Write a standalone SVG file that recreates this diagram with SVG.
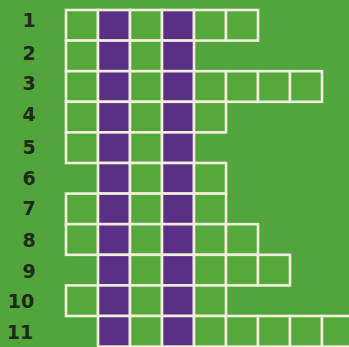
<svg xmlns="http://www.w3.org/2000/svg" width="349" height="347" viewBox="0 0 349 347">
<style>
.c{fill:#55a83a;stroke:#f2eedc;stroke-width:2.6}
.p{fill:#5a2f86;stroke:#f2eedc;stroke-width:2.6}
.n{font-family:"DejaVu Sans",sans-serif;font-weight:bold;font-size:19px;fill:#1d2b18;text-anchor:middle}
</style>
<rect width="349" height="347" fill="#51a53c"/>
<g id="labels">
<text class="n" x="29" y="27">1</text>
<text class="n" x="29" y="60">2</text>
<text class="n" x="29" y="90">3</text>
<text class="n" x="29" y="121">4</text>
<text class="n" x="29" y="154">5</text>
<text class="n" x="29" y="185">6</text>
<text class="n" x="29" y="215">7</text>
<text class="n" x="29" y="247">8</text>
<text class="n" x="29" y="278">9</text>
<text class="n" x="21" y="308">10</text>
<text class="n" x="20" y="339">11</text>
</g>
<g id="row1"><rect class="c" x="66" y="10" width="32" height="30.6"/><rect class="p" x="98" y="10" width="32" height="30.6"/><rect class="c" x="130" y="10" width="32" height="30.6"/><rect class="p" x="162" y="10" width="32" height="30.6"/><rect class="c" x="194" y="10" width="32" height="30.6"/><rect class="c" x="226" y="10" width="32" height="30.6"/></g>
<g id="row2"><rect class="c" x="66" y="40.6" width="32" height="30.6"/><rect class="p" x="98" y="40.6" width="32" height="30.6"/><rect class="c" x="130" y="40.6" width="32" height="30.6"/><rect class="p" x="162" y="40.6" width="32" height="30.6"/></g>
<g id="row3"><rect class="c" x="66" y="71.2" width="32" height="30.6"/><rect class="p" x="98" y="71.2" width="32" height="30.6"/><rect class="c" x="130" y="71.2" width="32" height="30.6"/><rect class="p" x="162" y="71.2" width="32" height="30.6"/><rect class="c" x="194" y="71.2" width="32" height="30.6"/><rect class="c" x="226" y="71.2" width="32" height="30.6"/><rect class="c" x="258" y="71.2" width="32" height="30.6"/><rect class="c" x="290" y="71.2" width="32" height="30.6"/></g>
<g id="row4"><rect class="c" x="66" y="101.8" width="32" height="30.6"/><rect class="p" x="98" y="101.8" width="32" height="30.6"/><rect class="c" x="130" y="101.8" width="32" height="30.6"/><rect class="p" x="162" y="101.8" width="32" height="30.6"/><rect class="c" x="194" y="101.8" width="32" height="30.6"/></g>
<g id="row5"><rect class="c" x="66" y="132.4" width="32" height="30.6"/><rect class="p" x="98" y="132.4" width="32" height="30.6"/><rect class="c" x="130" y="132.4" width="32" height="30.6"/><rect class="p" x="162" y="132.4" width="32" height="30.6"/></g>
<g id="row6"><rect class="p" x="98" y="163" width="32" height="30.6"/><rect class="c" x="130" y="163" width="32" height="30.6"/><rect class="p" x="162" y="163" width="32" height="30.6"/><rect class="c" x="194" y="163" width="32" height="30.6"/></g>
<g id="row7"><rect class="c" x="66" y="193.6" width="32" height="30.6"/><rect class="p" x="98" y="193.6" width="32" height="30.6"/><rect class="c" x="130" y="193.6" width="32" height="30.6"/><rect class="p" x="162" y="193.6" width="32" height="30.6"/><rect class="c" x="194" y="193.6" width="32" height="30.6"/></g>
<g id="row8"><rect class="c" x="66" y="224.2" width="32" height="30.6"/><rect class="p" x="98" y="224.2" width="32" height="30.6"/><rect class="c" x="130" y="224.2" width="32" height="30.6"/><rect class="p" x="162" y="224.2" width="32" height="30.6"/><rect class="c" x="194" y="224.2" width="32" height="30.6"/><rect class="c" x="226" y="224.2" width="32" height="30.6"/></g>
<g id="row9"><rect class="p" x="98" y="254.8" width="32" height="30.6"/><rect class="c" x="130" y="254.8" width="32" height="30.6"/><rect class="p" x="162" y="254.8" width="32" height="30.6"/><rect class="c" x="194" y="254.8" width="32" height="30.6"/><rect class="c" x="226" y="254.8" width="32" height="30.6"/><rect class="c" x="258" y="254.8" width="32" height="30.6"/></g>
<g id="row10"><rect class="c" x="66" y="285.4" width="32" height="30.6"/><rect class="p" x="98" y="285.4" width="32" height="30.6"/><rect class="c" x="130" y="285.4" width="32" height="30.6"/><rect class="p" x="162" y="285.4" width="32" height="30.6"/><rect class="c" x="194" y="285.4" width="32" height="30.6"/></g>
<g id="row11"><rect class="p" x="98" y="316" width="32" height="30.6"/><rect class="c" x="130" y="316" width="32" height="30.6"/><rect class="p" x="162" y="316" width="32" height="30.6"/><rect class="c" x="194" y="316" width="32" height="30.6"/><rect class="c" x="226" y="316" width="32" height="30.6"/><rect class="c" x="258" y="316" width="32" height="30.6"/><rect class="c" x="290" y="316" width="32" height="30.6"/><rect class="c" x="322" y="316" width="32" height="30.6"/></g>
<g id="connectors"/>
</svg>
